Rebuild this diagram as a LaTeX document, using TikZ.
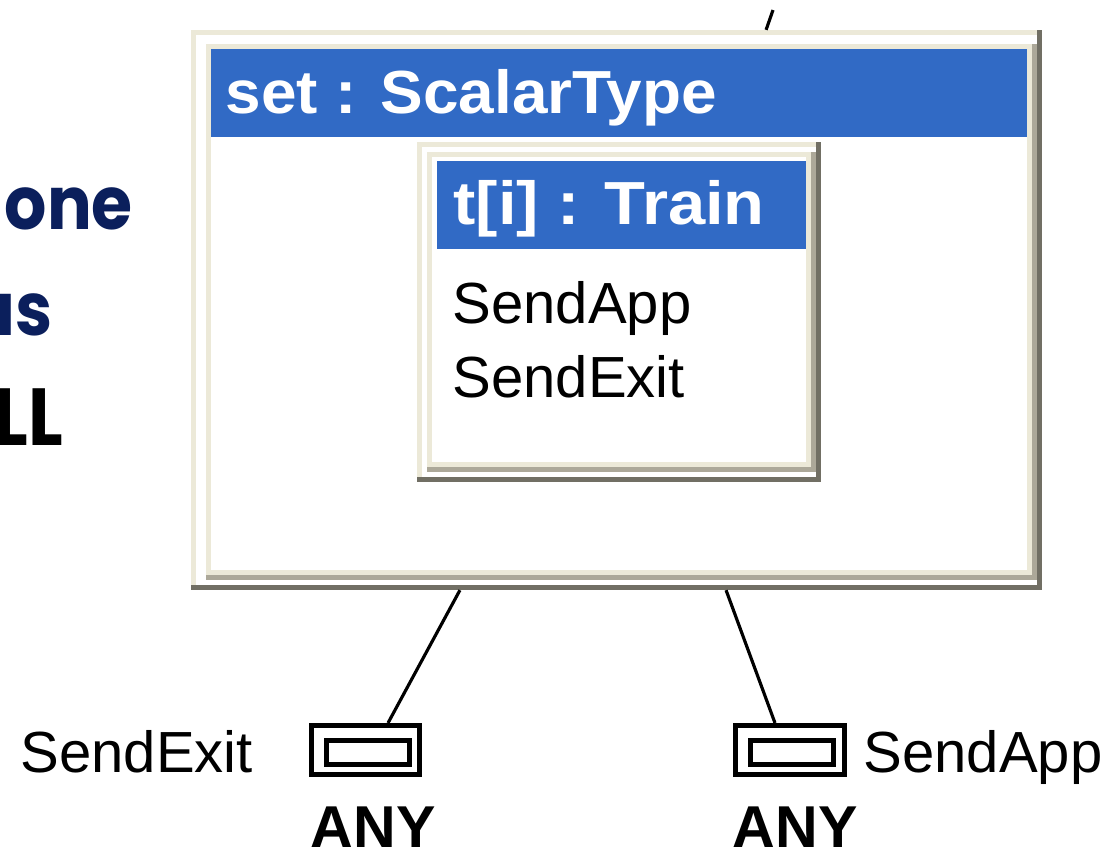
\documentclass[tikz,border=0pt]{standalone}
\usepackage{fontspec}
\setmainfont{Liberation Sans}
\newfontfamily\handfont{Poppins}[FakeStretch=0.9]
\definecolor{xpblue}{HTML}{316AC5}
\definecolor{xpface}{HTML}{ECE9D8}
\definecolor{xpshadow}{HTML}{ACA899}
\definecolor{xpdark}{HTML}{716F64}
\definecolor{slidenavy}{HTML}{0B1F5C}
\tikzset{
  face/.style={fill=xpface},
  shade1/.style={fill=xpshadow},
  shade2/.style={fill=xpdark},
  paper/.style={fill=white},
  title bar/.style={fill=xpblue},
  title text/.style={anchor=base west, inner sep=0pt, text=white, font=\fontsize{17.3pt}{20pt}\selectfont\bfseries},
  item text/.style={anchor=base west, inner sep=0pt, text=black, font=\fontsize{16.5pt}{19pt}\selectfont},
  any text/.style={anchor=base west, inner sep=0pt, text=black, font=\fontsize{16.8pt}{19pt}\selectfont\bfseries},
  slide text/.style={anchor=base west, inner sep=0pt, font=\handfont\fontsize{21pt}{24pt}\selectfont\bfseries},
  port/.style={draw=black, line width=1.42pt, fill=white, inner sep=0pt},
  wire/.style={draw=black, line width=0.9pt},
}
\begin{document}
\begin{tikzpicture}[x={(0.01cm,0)}, y={(0,-0.01cm)}]
\useasboundingbox (0,0) rectangle (1112,850);
\clip (0,0) rectangle (1112,850);
\fill[white] (0,0) rectangle (1112,850);

% left margin: words of the slide text
\node[slide text, text=slidenavy] (w1) at (4,229) {one};
\node[slide text, text=slidenavy] (w2) at (-30,335) {us};
\node[slide text, text=black, font=\handfont\fontsize{23pt}{26pt}\selectfont\bfseries] (w3) at (-7,445) {LL};

% outer part box: set : ScalarType
\fill[shade2] (191,30) rectangle (1042,590);
\fill[face]   (191,30) rectangle (1037,585);
\fill[paper]  (196,35) rectangle (1037,585);
\fill[shade1] (206,44) rectangle (1037,580);
\fill[face]   (206,44) rectangle (1032,575);
\fill[paper]  (211,49) rectangle (1027,570);
\fill[title bar] (211,49) rectangle (1027,137);
\node[inner sep=0pt, outer sep=0pt, minimum width=8.51cm, minimum height=5.6cm] (setbox) at (616.5,310) {};
\node[title text] (settitle) at (225,113) {\scalebox{1.05}[1]{set : ScalarType}};

% inner part box: t[i] : Train
\fill[shade2] (417,142) rectangle (821,482);
\fill[face]   (417,142) rectangle (816,477);
\fill[paper]  (422,147) rectangle (816,477);
\fill[shade1] (427,152) rectangle (816,472);
\fill[face]   (427,152) rectangle (811,467);
\fill[paper]  (432,157) rectangle (806,462);
\fill[title bar] (437,161) rectangle (806,249);
\node[inner sep=0pt, outer sep=0pt, minimum width=4.04cm, minimum height=3.4cm] (trainbox) at (619,312) {};
\node[title text] (traintitle) at (453,224) {\scalebox{1.1}[1]{t[i] : Train}};
\node[item text] (itemapp) at (452,323) {SendApp};
\node[item text] (itemexit) at (452,397) {SendExit};

% ports
\node[port, minimum width=1.08cm, minimum height=0.49cm] (portL) at (365.5,750) {};
\node[port, minimum width=0.83cm, minimum height=0.24cm] (portLin) at (368,752.5) {};
\node[port, minimum width=1.09cm, minimum height=0.49cm] (portR) at (790,750) {};
\node[port, minimum width=0.83cm, minimum height=0.24cm] (portRin) at (792,752.5) {};

\node[item text] (labL) at (20,772) {SendExit};
\node[item text] (labR) at (863,772) {SendApp};
\node[any text] (anyL) at (310,847) {ANY};
\node[any text] (anyR) at (732,847) {ANY};

% connectors
\coordinate (upend) at (773,10);
\draw[wire] ([xshift=1.495cm]setbox.north) -- (upend);
\draw[wire] ([xshift=-1.565cm]setbox.south) -- ([xshift=0.225cm]portL.north);
\draw[wire] ([xshift=1.095cm]setbox.south) -- ([xshift=-0.15cm]portR.north);
\end{tikzpicture}
\end{document}
